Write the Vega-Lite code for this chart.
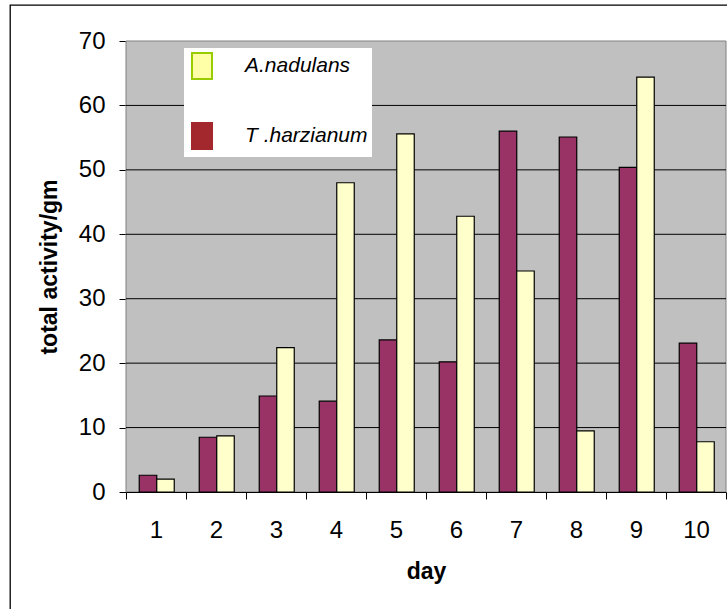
{
  "$schema": "https://vega.github.io/schema/vega-lite/v6.json",
  "width": 718,
  "height": 605,
  "autosize": {"type": "none"},
  "padding": {"left": 10, "top": 5, "right": -1, "bottom": -1},
  "background": "white",
  "config": {
    "font": "Liberation Sans",
    "view": {"stroke": "black", "strokeWidth": 1.3, "fill": "white"},
    "axis": {
      "labelFont": "Liberation Sans",
      "labelFontSize": 24,
      "labelColor": "black",
      "titleFont": "Liberation Sans",
      "titleFontSize": 23,
      "titleFontWeight": "bold",
      "titleColor": "black",
      "tickColor": "black",
      "tickSize": 7,
      "grid": false
    },
    "axisX": {
      "offset": -118,
      "tickBand": "extent",
      "domainColor": "black",
      "labelPadding": 19,
      "titlePadding": 18,
      "labelAngle": 0
    },
    "axisY": {
      "offset": -116,
      "domainColor": "#808080",
      "labelPadding": 14,
      "titlePadding": 17
    }
  },
  "data": {
    "values": [
      {"day": 1, "series": "T .harzianum", "activity": 2.6},
      {"day": 1, "series": "A.nadulans", "activity": 2.0},
      {"day": 2, "series": "T .harzianum", "activity": 8.5},
      {"day": 2, "series": "A.nadulans", "activity": 8.7},
      {"day": 3, "series": "T .harzianum", "activity": 14.9},
      {"day": 3, "series": "A.nadulans", "activity": 22.4},
      {"day": 4, "series": "T .harzianum", "activity": 14.1},
      {"day": 4, "series": "A.nadulans", "activity": 48.0},
      {"day": 5, "series": "T .harzianum", "activity": 23.6},
      {"day": 5, "series": "A.nadulans", "activity": 55.6},
      {"day": 6, "series": "T .harzianum", "activity": 20.2},
      {"day": 6, "series": "A.nadulans", "activity": 42.8},
      {"day": 7, "series": "T .harzianum", "activity": 56.0},
      {"day": 7, "series": "A.nadulans", "activity": 34.3},
      {"day": 8, "series": "T .harzianum", "activity": 55.1},
      {"day": 8, "series": "A.nadulans", "activity": 9.5},
      {"day": 9, "series": "T .harzianum", "activity": 50.4},
      {"day": 9, "series": "A.nadulans", "activity": 64.4},
      {"day": 10, "series": "T .harzianum", "activity": 23.1},
      {"day": 10, "series": "A.nadulans", "activity": 7.8}
    ]
  },
  "resolve": {"scale": {"fill": "independent", "stroke": "independent"}},
  "layer": [
    {
      "data": {"values": [{"panel": "plot area"}]},
      "mark": {"type": "rect", "fill": "#c0c0c0", "stroke": "#808080", "strokeWidth": 1},
      "encoding": {
        "x": {"datum": 1, "type": "ordinal", "bandPosition": 0},
        "x2": {"datum": 10, "bandPosition": 1},
        "y": {"datum": 0, "type": "quantitative", "axis": {"values": [0, 10, 20, 30, 40, 50, 60, 70]}},
        "y2": {"datum": 70}
      }
    },
    {
      "data": {"values": [{"level": 10}, {"level": 20}, {"level": 30}, {"level": 40}, {"level": 50}, {"level": 60}]},
      "mark": {"type": "rule", "color": "black", "strokeWidth": 1},
      "encoding": {
        "x": {"datum": 1, "type": "ordinal", "bandPosition": 0},
        "x2": {"datum": 10, "bandPosition": 1},
        "y": {
          "field": "level",
          "type": "quantitative",
          "axis": {"title": "total activity/gm", "values": [0, 10, 20, 30, 40, 50, 60, 70]}
        }
      }
    },
    {
      "mark": {"type": "bar", "stroke": "black", "strokeWidth": 1.2},
      "encoding": {
        "x": {
          "field": "day",
          "type": "ordinal",
          "title": "day",
          "scale": {"range": [116, 716], "paddingInner": 0, "paddingOuter": 0}
        },
        "xOffset": {
          "field": "series",
          "scale": {"domain": ["T .harzianum", "A.nadulans"], "paddingInner": 0, "paddingOuter": 0.714, "align": 0.53}
        },
        "y": {
          "field": "activity",
          "type": "quantitative",
          "scale": {"domain": [0, 70], "range": [487, 36], "nice": false, "zero": true},
          "axis": {"title": "total activity/gm", "values": [0, 10, 20, 30, 40, 50, 60, 70]}
        },
        "fill": {
          "field": "series",
          "type": "nominal",
          "scale": {"domain": ["A.nadulans", "T .harzianum"], "range": ["#ffffcc", "#993366"]},
          "legend": null
        }
      }
    },
    {
      "mark": {"type": "bar", "opacity": 0},
      "encoding": {
        "x": {"field": "day", "type": "ordinal", "title": "day"},
        "xOffset": {"field": "series"},
        "y": {"field": "activity", "type": "quantitative", "axis": {"title": "total activity/gm", "values": [0, 10, 20, 30, 40, 50, 60, 70]}},
        "fill": {
          "field": "series",
          "type": "nominal",
          "scale": {"domain": ["A.nadulans", "T .harzianum"], "range": ["#ffffa8", "#a3282e"]},
          "legend": {
            "orient": "none",
            "legendX": 174,
            "legendY": 43,
            "title": null,
            "fillColor": "white",
            "padding": 4,
            "symbolType": "M-0.77,-1H0.77V1H-0.77Z",
            "symbolSize": 676,
            "symbolStrokeWidth": 2,
            "symbolOpacity": 1,
            "rowPadding": 36,
            "labelOffset": 29,
            "labelFont": "Liberation Sans",
            "labelFontSize": 21,
            "labelFontStyle": "italic",
            "labelColor": "black"
          }
        },
        "stroke": {
          "field": "series",
          "type": "nominal",
          "scale": {"domain": ["A.nadulans", "T .harzianum"], "range": ["#99cc00", "#a3282e"]},
          "legend": {
            "orient": "none",
            "legendX": 174,
            "legendY": 43,
            "title": null,
            "fillColor": "white",
            "padding": 4,
            "symbolType": "M-0.77,-1H0.77V1H-0.77Z",
            "symbolSize": 676,
            "symbolStrokeWidth": 2,
            "symbolOpacity": 1,
            "rowPadding": 36,
            "labelOffset": 29,
            "labelFont": "Liberation Sans",
            "labelFontSize": 21,
            "labelFontStyle": "italic",
            "labelColor": "black"
          }
        }
      }
    }
  ]
}
